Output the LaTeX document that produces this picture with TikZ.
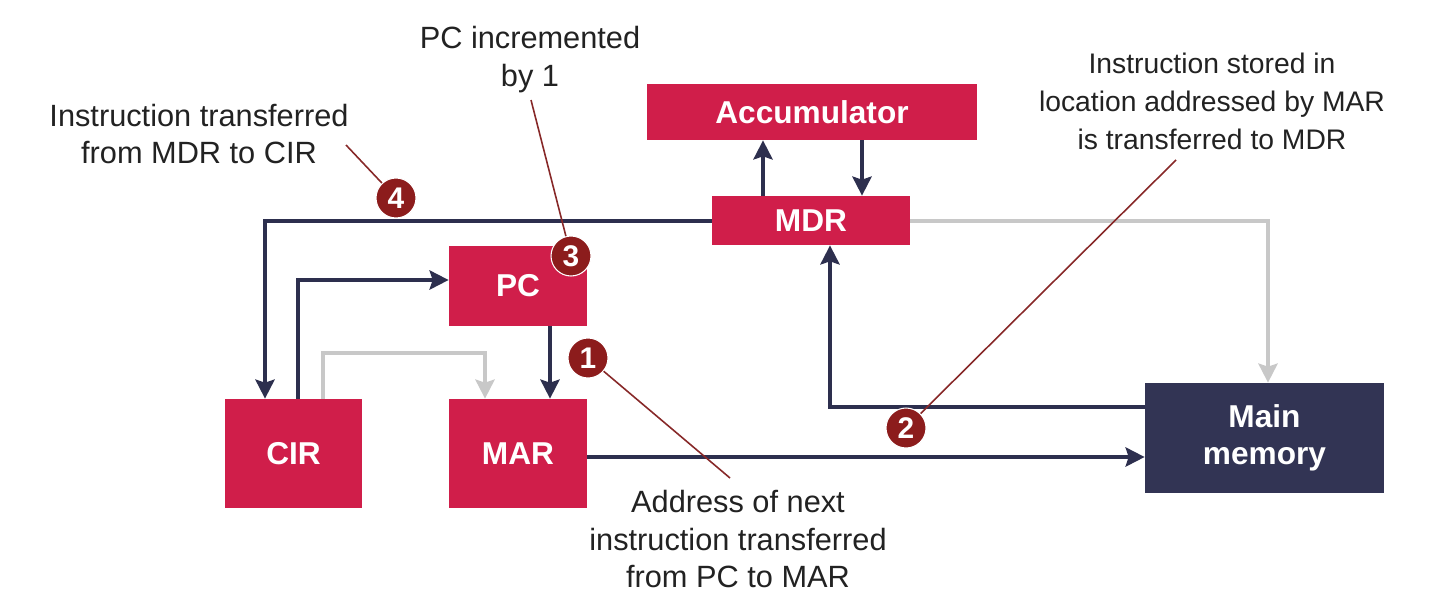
\documentclass[tikz,border=0pt]{standalone}
\usepackage{fontspec}
\setmainfont{Liberation Sans}
\usetikzlibrary{arrows.meta,calc}
\definecolor{boxred}{RGB}{208,30,74}
\definecolor{navy}{RGB}{45,47,78}
\definecolor{memnavy}{RGB}{50,52,84}
\definecolor{lgray}{RGB}{200,200,200}
\definecolor{badgered}{RGB}{140,28,28}
\definecolor{leadred}{RGB}{135,40,40}
\definecolor{txt}{RGB}{34,34,34}
\begin{document}
\begin{tikzpicture}[x=0.02cm,y=-0.02cm,
  regbox/.style={fill=boxred,text=white,draw=none,inner sep=0pt,align=center,
    font=\bfseries\fontsize{18}{21}\selectfont},
  membox/.style={regbox,fill=memnavy},
  nav/.style={draw=navy,line width=0.08cm,-{Stealth[length=0.38cm,width=0.38cm,inset=0.06cm]}},
  gry/.style={draw=lgray,line width=0.08cm,-{Stealth[length=0.38cm,width=0.38cm,inset=0.06cm]}},
  badge/.style={circle,fill=badgered,draw=white,line width=0.6pt,minimum size=0.8cm,inner sep=0pt,
    text=white,font=\bfseries\fontsize{17}{20}\selectfont},
  leader/.style={draw=leadred,line width=0.9pt},
  lbl/.style={text=txt,align=center,inner sep=0pt,font=\fontsize{17.5}{21.6}\selectfont},
  lblsmall/.style={lbl,font=\fontsize{16.1}{21.6}\selectfont}
]
\useasboundingbox[fill=white] (0,0) rectangle (1440,613);

% boxes
\node[regbox,minimum width=6.6cm,minimum height=1.12cm] (acc) at (812,112) {Accumulator};
\node[regbox,minimum width=3.96cm,minimum height=0.98cm] (MDR) at (811,220.5) {MDR};
\node[regbox,minimum width=2.76cm,minimum height=1.6cm] (PC) at (518,286) {PC};
\node[regbox,minimum width=2.74cm,minimum height=2.18cm] (CIR) at (293.5,453.5) {CIR};
\node[regbox,minimum width=2.76cm,minimum height=2.18cm] (MAR) at (518,453.5) {MAR};
\node[membox,minimum width=4.78cm,minimum height=2.2cm] (MM) at (1264.5,438) {Main\\memory};

% connectors
\coordinate (cirin) at ([xshift=-0.57cm]CIR.north);
\draw[nav] (MDR.west) -| (cirin);
\coordinate (cirout) at ([xshift=0.09cm]CIR.north);
\coordinate (pcin) at ([yshift=0.12cm]PC.west);
\draw[nav] (cirout) |- (pcin);
\coordinate (cirg) at ([xshift=0.59cm]CIR.north);
\coordinate (marg) at ([xshift=-0.66cm]MAR.north);
\draw[gry] (cirg) -- ++(0,-46) -| (marg);
\draw[nav] ([xshift=0.64cm]PC.south) -- ([xshift=0.64cm]MAR.north);
\coordinate (marout) at ([yshift=-0.07cm]MAR.east);
\draw[nav] (marout) -- (marout -| MM.west);
\coordinate (mmout) at ([yshift=0.62cm]MM.west);
\coordinate (mdrin) at ([xshift=0.38cm]MDR.south);
\draw[nav] (mmout) -| (mdrin);
\coordinate (mmin) at ([xshift=0.07cm]MM.north);
\draw[gry] (MDR.east) -| (mmin);
\coordinate (mdrup) at ([xshift=-0.96cm]MDR.north);
\draw[nav] (mdrup) -- (mdrup |- acc.south);
\coordinate (mdrdn) at ([xshift=1.02cm]MDR.north);
\draw[nav] (mdrdn |- acc.south) -- (mdrdn);

% labels
\node[lbl] (t4) at (199,134) {Instruction transferred\\from MDR to CIR};
\node[lbl] (t3) at (530,60) {PC incremented\\by 1};
\node[lblsmall] (t2) at (1212,101) {Instruction stored in\\location addressed by MAR\\is transferred to MDR};
\node[lbl] (t1) at (738,539) {Address of next\\instruction transferred\\from PC to MAR};

% badges
\node[badge] (b1) at (588,358) {1};
\node[badge] (b2) at (906,428) {2};
\node[badge] (b3) at (571,256) {3};
\node[badge] (b4) at (396,198) {4};

% leaders
\coordinate (e1) at (730,478);
\coordinate (e2) at (1176,160);
\coordinate (e3) at (531,100);
\coordinate (e4) at (346,145);
\draw[leader] (b1) -- (e1);
\draw[leader] (b2) -- (e2);
\draw[leader] (b3) -- (e3);
\draw[leader] (b4) -- (e4);
\end{tikzpicture}
\end{document}
